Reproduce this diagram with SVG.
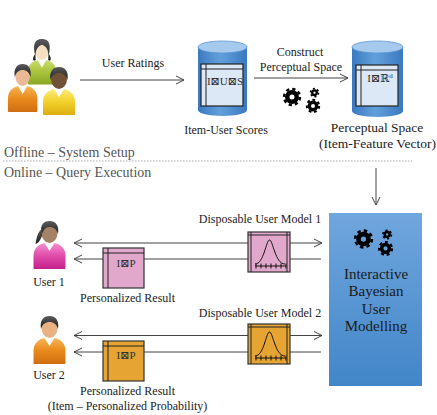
<svg xmlns="http://www.w3.org/2000/svg" xmlns:xlink="http://www.w3.org/1999/xlink" width="437" height="415" viewBox="0 0 437 415">
  <style>
    .t { font-family: "Liberation Serif", "DejaVu Serif", serif; fill: #222; }
    .sec { font-size: 14px; fill: #555; }
    .s12 { font-size: 12px; }
    .s135 { font-size: 13.5px; }
    .cell { font-size: 11px; fill: #333; }
    .big { font-size: 15px; fill: #1a1a1a; }
    .conn { stroke: #444; stroke-width: 1; fill: none; }
    .tbl { fill: #dce8f5; stroke: #222; stroke-width: 1.2; }
    .rule { stroke: #222; stroke-width: 1; }
    .box { stroke: #333; stroke-width: 1.2; }
    .pink { fill: #e2a8cc; }
    .orange { fill: #e6a533; }
    .curve { fill: none; stroke: #111; stroke-width: 1; }
  </style>
  <defs>
    <marker id="ah" markerUnits="userSpaceOnUse" markerWidth="10" markerHeight="10" viewBox="0 0 10 10" refX="9" refY="5" orient="auto-start-reverse">
      <path d="M1,1 L9,5 L1,9" fill="none" stroke="#444" stroke-width="1"/>
    </marker>
    <linearGradient id="cylBody" x1="0" y1="0" x2="1" y2="0">
      <stop offset="0" stop-color="#3b79c0"/>
      <stop offset="0.45" stop-color="#62a0dc"/>
      <stop offset="1" stop-color="#3b79c0"/>
    </linearGradient>
    <linearGradient id="panel" x1="0" y1="0" x2="0" y2="1">
      <stop offset="0" stop-color="#70a6dd"/>
      <stop offset="1" stop-color="#4286c9"/>
    </linearGradient>
    <linearGradient id="gPink" x1="0" y1="0" x2="0" y2="1">
      <stop offset="0" stop-color="#f590d2"/>
      <stop offset="0.5" stop-color="#e04aa9"/>
      <stop offset="1" stop-color="#c4218a"/>
    </linearGradient>
    <linearGradient id="gOrange" x1="0" y1="0" x2="0" y2="1">
      <stop offset="0" stop-color="#f8b652"/>
      <stop offset="0.5" stop-color="#e8891c"/>
      <stop offset="1" stop-color="#cf6e10"/>
    </linearGradient>
    <linearGradient id="gYellow" x1="0" y1="0" x2="0" y2="1">
      <stop offset="0" stop-color="#fcec7a"/>
      <stop offset="0.5" stop-color="#f2d02a"/>
      <stop offset="1" stop-color="#dcae10"/>
    </linearGradient>
    <linearGradient id="gGreen" x1="0" y1="0" x2="0" y2="1">
      <stop offset="0" stop-color="#cadf70"/>
      <stop offset="0.5" stop-color="#a8c23a"/>
      <stop offset="1" stop-color="#8aa624"/>
    </linearGradient>
    <linearGradient id="gHair" x1="0" y1="0" x2="0" y2="1">
      <stop offset="0" stop-color="#5a5a5a"/>
      <stop offset="1" stop-color="#1e1e1e"/>
    </linearGradient>

    <!-- person icon parts, 34 x 48 local box -->
    <path id="pBody" d="M1,47 L1,35 C1,27 6,23 13,22 L21,22 C28,23 33,27 33,35 L33,47 C33,48 32,48 31,48 L3,48 C2,48 1,48 1,47 Z"/>
    <path id="pCollar" d="M12,22 L17,30 L22,22 Z" fill="#fff"/>
    <ellipse id="pFace" cx="17" cy="12" rx="8" ry="10"/>
    <path id="hairM" d="M8.5,13 C7,4 11,0 17,0 C23,0 27,4 25.5,13 C24,8 21,6 17,6 C13,6 10,8 8.5,13 Z" fill="url(#gHair)"/>
    <g id="hairF" fill="url(#gHair)">
      <path d="M9,14 C7,4 11,0 17,0 C23,0 27,4 25.5,13 C24,8 21,6 17,6 C13,6 11,9 9,14 Z"/>
      <path d="M9.5,8 C5,11 4,17 3,23 C6,22 8,19 9.5,15 Z"/>
    </g>
    <path id="hairL" fill="url(#gHair)" d="M9,16 C6,3 11,0 17,0 C23,0 28,3 25,16 C27,19 28,21 26,23 L24,22 C25,15 24,8 17,6 C10,8 9,15 10,22 L8,23 C6,21 7,19 9,16 Z"/>

    <!-- gear trio: ring plus dashed tooth band -->
    <g id="gears" fill="none" stroke="#000">
      <circle cx="0" cy="0" r="4.75" stroke-width="4.5"/>
      <circle cx="0" cy="0" r="8" stroke-width="2.4" stroke-dasharray="3.3 2.98"/>
      <circle cx="22.5" cy="-4.3" r="2.3" stroke-width="2.4"/>
      <circle cx="22.5" cy="-4.3" r="4.1" stroke-width="1.5" stroke-dasharray="2.1 2.19"/>
      <circle cx="21" cy="9" r="3.7" stroke-width="3.4"/>
      <circle cx="21" cy="9" r="6.2" stroke-width="2" stroke-dasharray="2.8 2.77"/>
    </g>
  </defs>

  <!-- section labels and divider -->
  <text class="t sec" x="4" y="157">Offline – System Setup</text>
  <line x1="3" y1="161" x2="412" y2="161" stroke="#aaa" stroke-width="1" stroke-dasharray="1.5 1.5"/>
  <text class="t sec" x="4" y="177">Online – Query Execution</text>

  <!-- connectors -->
  <g id="connectors">
    <line class="conn" x1="80" y1="80" x2="184" y2="80" marker-end="url(#ah)"/>
    <line class="conn" x1="254" y1="78" x2="348" y2="78" marker-end="url(#ah)"/>
    <line class="conn" x1="376" y1="168" x2="376" y2="205" marker-end="url(#ah)"/>
    <line class="conn" x1="74" y1="243" x2="322" y2="243" stroke="#666" marker-start="url(#ah)" marker-end="url(#ah)"/>
    <line class="conn" x1="74" y1="259" x2="321" y2="259" stroke="#333" marker-start="url(#ah)"/>
    <line class="conn" x1="74" y1="335.5" x2="322" y2="335.5" stroke="#666" marker-start="url(#ah)" marker-end="url(#ah)"/>
    <line class="conn" x1="74" y1="352" x2="321" y2="352" stroke="#333" marker-start="url(#ah)"/>
    <text class="t s12" x="133" y="67" text-anchor="middle">User Ratings</text>
    <text class="t s12" x="300" y="56" text-anchor="middle">Construct</text>
    <text class="t s12" x="301" y="71" text-anchor="middle">Perceptual Space</text>
  </g>

  <!-- user group -->
  <g id="users">
    <g transform="translate(27,39) scale(0.88,0.95)">
      <use href="#pBody" fill="url(#gGreen)"/>
      <use href="#pCollar"/>
      <use href="#pFace" fill="#f5e1c2"/>
      <use href="#hairL"/>
    </g>
    <g transform="translate(7,64) scale(0.92,1)">
      <use href="#pBody" fill="url(#gOrange)"/>
      <use href="#pCollar"/>
      <use href="#pFace" fill="#eab894"/>
      <use href="#hairM"/>
    </g>
    <g transform="translate(42,67)">
      <use href="#pBody" fill="url(#gYellow)"/>
      <use href="#pCollar"/>
      <use href="#pFace" fill="#6f5238"/>
      <use href="#hairM"/>
    </g>
  </g>

  <!-- gears between the stores -->
  <g id="construct-gears">
    <use href="#gears" transform="translate(292,97)"/>
  </g>

  <!-- item-user score store -->
  <g id="item-user-scores">
    <path d="M198,47 L198,110 A24.5,6 0 0 0 247,110 L247,47 Z" fill="url(#cylBody)"/>
    <ellipse cx="222.5" cy="47" rx="24.5" ry="6" fill="#a6c9ee" stroke="#5a94d0" stroke-width="0.8"/>
    <rect class="tbl" x="201" y="64" width="42" height="42"/>
    <line class="rule" x1="201" y1="69" x2="243" y2="69"/>
    <line class="rule" x1="206" y1="64" x2="206" y2="106"/>
    <text class="t cell" x="225" y="85" text-anchor="middle">I⊠U⊠S</text>
    <text class="t s12" x="226" y="134" text-anchor="middle">Item-User Scores</text>
  </g>

  <!-- perceptual space store -->
  <g id="perceptual-space">
    <path d="M352,47 L352,111 A25.5,6 0 0 0 403,111 L403,47 Z" fill="url(#cylBody)"/>
    <ellipse cx="377.5" cy="47" rx="25.5" ry="6" fill="#a6c9ee" stroke="#5a94d0" stroke-width="0.8"/>
    <rect class="tbl" x="356" y="65" width="42" height="41"/>
    <line class="rule" x1="356" y1="70" x2="398" y2="70"/>
    <line class="rule" x1="361" y1="65" x2="361" y2="106"/>
    <text class="t cell" x="380" y="82" text-anchor="middle">I⊠ℝ<tspan font-size="7" dy="-4">d</tspan></text>
    <text class="t s135" x="377" y="132" text-anchor="middle">Perceptual Space</text>
    <text class="t s135" x="377.5" y="148" text-anchor="middle">(Item-Feature Vector)</text>
  </g>

  <!-- user 1 -->
  <g id="user1">
    <g transform="translate(32.5,221)">
      <use href="#pBody" fill="url(#gPink)"/>
      <use href="#pCollar"/>
      <use href="#pFace" fill="#a58166"/>
      <use href="#hairF"/>
    </g>
    <text class="t s12" x="49" y="286" text-anchor="middle">User 1</text>
  </g>

  <g id="result1">
    <rect class="box pink" x="103" y="248" width="41" height="40"/>
    <line class="rule" x1="103" y1="253" x2="144" y2="253"/>
    <line class="rule" x1="108" y1="248" x2="108" y2="288"/>
    <text class="t cell" x="126" y="267" text-anchor="middle">I⊠P</text>
    <text class="t s12" x="127.5" y="302" text-anchor="middle">Personalized Result</text>
  </g>

  <g id="model1">
    <text class="t s12" x="260" y="223" text-anchor="middle">Disposable User Model 1</text>
    <rect class="box pink" x="248" y="232" width="42" height="40"/>
    <line class="rule" x1="248" y1="235" x2="290" y2="235"/>
    <line class="rule" x1="251" y1="232" x2="251" y2="272"/>
    <line class="rule" x1="287" y1="232" x2="287" y2="272"/>
    <path class="curve" d="M255,264 C264,264 266,240 269.5,240 C273,240 275,264 285,264"/>
    <path class="curve" d="M255,266 L286,266 M256,263.5 V268.5 M261,263.5 V268.5 M266,263.5 V268.5 M271,263.5 V268.5 M276,263.5 V268.5 M281,263.5 V268.5 M286,263.5 V268.5"/>
  </g>

  <!-- user 2 -->
  <g id="user2">
    <g transform="translate(32.5,316)">
      <use href="#pBody" fill="url(#gOrange)"/>
      <use href="#pCollar"/>
      <use href="#pFace" fill="#e8b284"/>
      <use href="#hairM"/>
    </g>
    <text class="t s12" x="49" y="379" text-anchor="middle">User 2</text>
  </g>

  <g id="result2">
    <rect class="box orange" x="103" y="341" width="41" height="40"/>
    <line class="rule" x1="103" y1="346" x2="144" y2="346"/>
    <line class="rule" x1="108" y1="341" x2="108" y2="381"/>
    <text class="t cell" x="126" y="359" text-anchor="middle">I⊠P</text>
    <text class="t s12" x="127.5" y="395" text-anchor="middle">Personalized Result</text>
    <text class="t s12" x="127.5" y="410" text-anchor="middle">(Item – Personalized Probability)</text>
  </g>

  <g id="model2">
    <text class="t s12" x="260" y="317" text-anchor="middle">Disposable User Model 2</text>
    <rect class="box orange" x="248" y="324" width="42" height="40"/>
    <line class="rule" x1="248" y1="327" x2="290" y2="327"/>
    <line class="rule" x1="251" y1="324" x2="251" y2="364"/>
    <line class="rule" x1="287" y1="324" x2="287" y2="364"/>
    <path class="curve" d="M255,356 C264,356 266,332 269.5,332 C273,332 275,356 285,356"/>
    <path class="curve" d="M255,358 L286,358 M256,355.5 V360.5 M261,355.5 V360.5 M266,355.5 V360.5 M271,355.5 V360.5 M276,355.5 V360.5 M281,355.5 V360.5 M286,355.5 V360.5"/>
  </g>

  <!-- interactive modelling engine -->
  <g id="bayesian-engine">
    <rect x="329" y="213" width="93" height="173" fill="url(#panel)"/>
    <use href="#gears" transform="translate(363.5,239) scale(1.05)"/>
    <text class="t big" x="376" y="279" text-anchor="middle">Interactive</text>
    <text class="t big" x="376" y="296" text-anchor="middle">Bayesian</text>
    <text class="t big" x="376" y="314" text-anchor="middle">User</text>
    <text class="t big" x="376" y="331" text-anchor="middle">Modelling</text>
  </g>
</svg>
